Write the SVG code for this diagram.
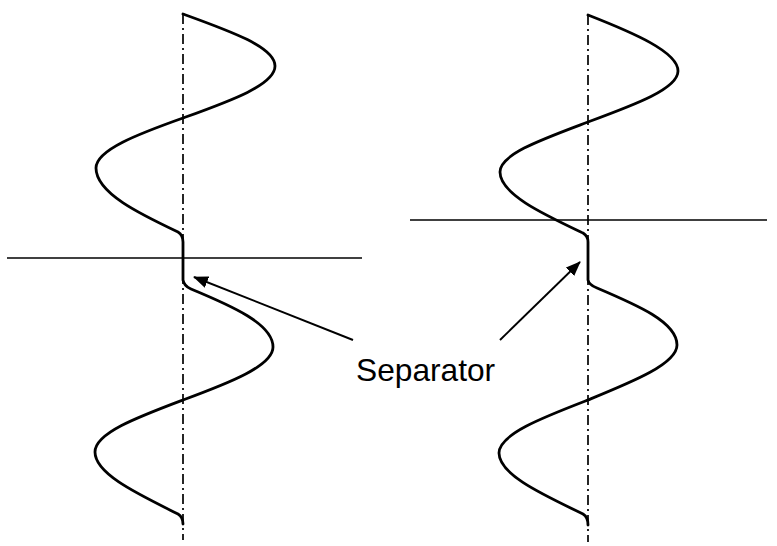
<svg xmlns="http://www.w3.org/2000/svg" width="777" height="546" viewBox="0 0 777 546">
<style>
.axis{stroke:#000;stroke-width:1.7;fill:none;stroke-dasharray:10 4 2 4}
.wave{stroke:#000;stroke-width:2.8;fill:none;stroke-linejoin:round;stroke-linecap:round}
.hline{stroke:#000;stroke-width:1.5}
.arrow{stroke:#000;stroke-width:1.9;fill:none}
.lbl{font-family:"Liberation Sans",Arial,sans-serif;font-size:31.7px;fill:#000}
</style>
<defs>
<marker id="ah" viewBox="0 0 15 12" refX="14" refY="6" markerWidth="15" markerHeight="12" markerUnits="userSpaceOnUse" orient="auto">
<path d="M0,0 L15,6 L0,12 Z" fill="#000"/>
</marker>
</defs>
<rect width="777" height="546" fill="#fff"/>
<g id="left-wave">
<line class="axis" x1="183" y1="14" x2="183" y2="540"/>
<line class="hline" x1="7" y1="258" x2="362" y2="258"/>
<path class="wave" d="M183,14 C230,31 275,47 275,66 C275,85 230,101 183,118 C138,134 96,150 96,168 C96,193 140,214 178,232 Q183,235 183,242 L183,280 Q184,286 191,289 C232,306 273,324 273,347 C273,366 229,383 183,400 C138,417 95,433 95,452 C95,474 138,494 178,514 Q183,517 183,524"/>
</g>
<g id="right-wave">
<line class="axis" x1="588" y1="15" x2="588" y2="542"/>
<line class="hline" x1="410" y1="220" x2="767" y2="220"/>
<path class="wave" d="M588,15 C634,33 678,52 678,71 C678,89 634,105 588,122 C543,139 500,154 500,172 C500,194 543,214 583,233 Q588,236 588,242 L588,280 Q589,285 597,288 C637,305 677,322 677,345 C677,364 632,382 588,400 C544,417 499,434 499,453 C499,475 544,495 583,514 Q588,517 588,525"/>
</g>
<g id="connectors">
<line class="arrow" x1="353" y1="340" x2="194" y2="277" marker-end="url(#ah)"/>
<line class="arrow" x1="500" y1="340" x2="580" y2="262" marker-end="url(#ah)"/>
</g>
<g id="label">
<text class="lbl" x="356" y="381">Separator</text>
</g>
</svg>
